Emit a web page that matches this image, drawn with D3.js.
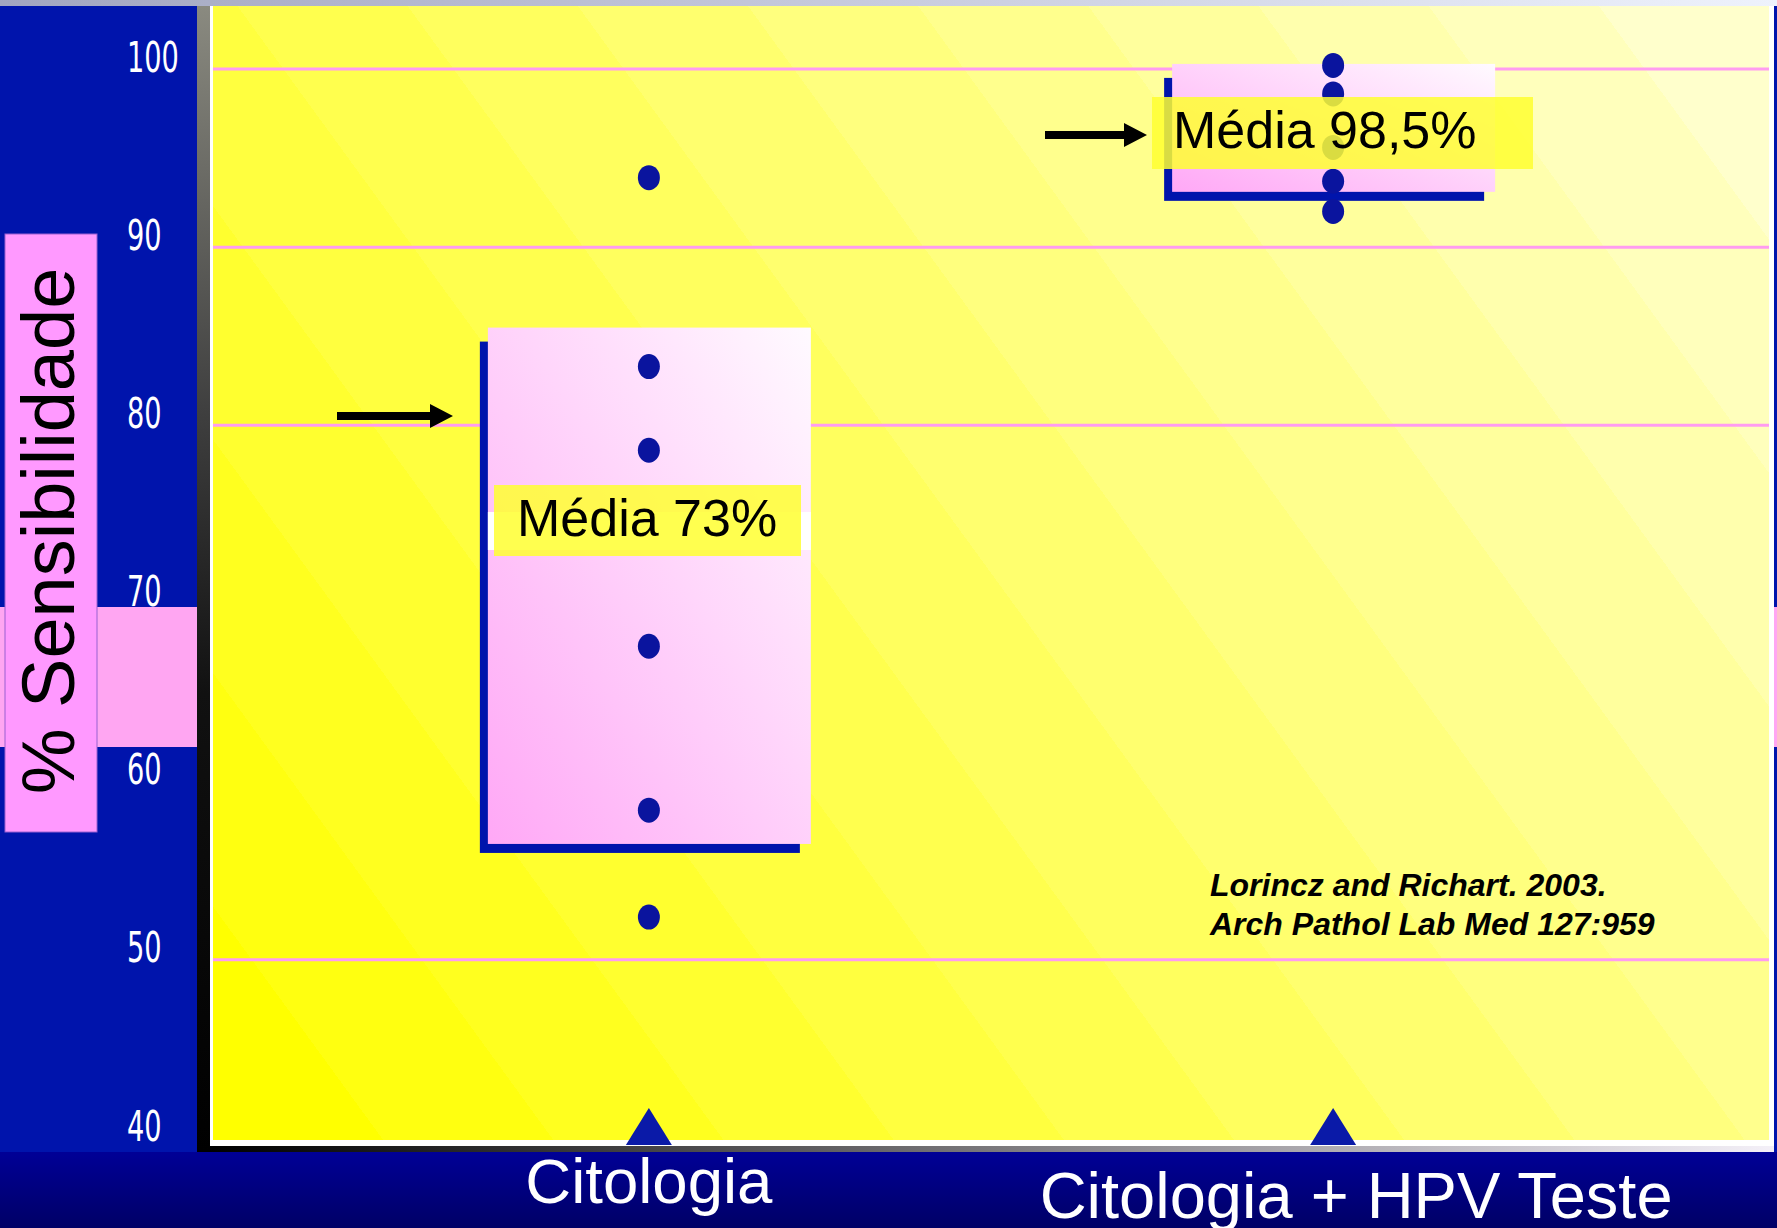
<!DOCTYPE html>
<html>
<head>
<meta charset="utf-8">
<script src="https://cdn.jsdelivr.net/npm/d3@7"></script>
<style>
  body { margin: 0; background: #000070; }
  svg { display: block; }
</style>
</head>
<body>
<svg id="chart" width="1777" height="1228"></svg>
<script>
const categories = ['Citologia', 'Citologia + HPV Teste']
const citologiaValues = [93.9, 83.3, 78.6, 67.6, 58.4, 52.4]
const hpvValues = [100.2, 98.6, 95.6, 93.7, 92.0]
const boxHigh = [84.7, 99.5]
const boxLow = [56, 92.6]
const meanLabels = ['Média 73%', 'Média 98,5%']
const yTicks = [100, 90, 80, 70, 60, 50, 40]
const gridValues = [100, 90, 80, 50]
const yTitle = '% Sensibilidade'
const citation = ['Lorincz and Richart. 2003.', 'Arch Pathol Lab Med 127:959']

function drawChart() {
  const svg = d3.select('#chart')
  const W = 1777, H = 1228
  const plot = { left: 213, right: 1769, top: 6, bottom: 1140 }
  const font = "'Liberation Sans', Arial, sans-serif"

  const x = d3.scalePoint()
    .domain(categories)
    .range([plot.left, plot.right])
    .padding(0.637)
  const y = d3.scaleLinear()
    .domain([40, 100])
    .range([1138, 69])

  const defs = svg.append('defs')

  // banded yellow background, light towards top right
  const yellow = defs.append('linearGradient')
    .attr('id', 'yellowGrad')
    .attr('gradientUnits', 'userSpaceOnUse')
    .attr('x1', plot.left).attr('y1', plot.bottom)
    .attr('x2', plot.right).attr('y2', plot.top)
  const bands = 14
  const yCol = d3.interpolateRgb('#ffff00', '#ffffcc')
  d3.range(bands).forEach(i => {
    yellow.append('stop').attr('offset', i / bands).attr('stop-color', yCol(i / (bands - 1)))
    yellow.append('stop').attr('offset', (i + 1) / bands).attr('stop-color', yCol(i / (bands - 1)))
  })

  const pink = defs.append('linearGradient')
    .attr('id', 'pinkGrad')
    .attr('x1', 0).attr('y1', 1).attr('x2', 1).attr('y2', 0)
  pink.append('stop').attr('offset', 0).attr('stop-color', '#ffa8f6')
  pink.append('stop').attr('offset', 1).attr('stop-color', '#fffaff')

  const topGrad = defs.append('linearGradient').attr('id', 'topGrad')
  topGrad.append('stop').attr('offset', 0).attr('stop-color', '#a2a6c0')
  topGrad.append('stop').attr('offset', 1).attr('stop-color', '#eef2fc')

  const sideGrad = defs.append('linearGradient')
    .attr('id', 'sideGrad')
    .attr('x1', 0).attr('y1', 0).attr('x2', 0).attr('y2', 1)
  sideGrad.append('stop').attr('offset', 0).attr('stop-color', '#8a8a80')
  sideGrad.append('stop').attr('offset', 0.35).attr('stop-color', '#404040')
  sideGrad.append('stop').attr('offset', 0.6).attr('stop-color', '#111111')
  sideGrad.append('stop').attr('offset', 1).attr('stop-color', '#000000')

  const baseGrad = defs.append('linearGradient').attr('id', 'baseGrad')
  baseGrad.append('stop').attr('offset', 0).attr('stop-color', '#000000')
  baseGrad.append('stop').attr('offset', 1).attr('stop-color', '#f4f0f8')

  const navyGrad = defs.append('linearGradient')
    .attr('id', 'navyGrad')
    .attr('x1', 0).attr('y1', 0).attr('x2', 0).attr('y2', 1)
  navyGrad.append('stop').attr('offset', 0).attr('stop-color', '#000096')
  navyGrad.append('stop').attr('offset', 1).attr('stop-color', '#000066')

  // slide frame
  svg.append('rect').attr('x', 0).attr('y', 0).attr('width', W).attr('height', 1152).attr('fill', '#0014ac')
  svg.append('rect').attr('x', 0).attr('y', 607).attr('width', W).attr('height', 140).attr('fill', '#ffa6f2')
  svg.append('rect').attr('x', 0).attr('y', 0).attr('width', W).attr('height', 6).attr('fill', 'url(#topGrad)')
  svg.append('rect').attr('x', 197).attr('y', 6).attr('width', 13).attr('height', 1146).attr('fill', 'url(#sideGrad)')
  svg.append('rect').attr('x', 210).attr('y', 1146).attr('width', 1564).attr('height', 6).attr('fill', 'url(#baseGrad)')
  svg.append('rect').attr('x', 210).attr('y', 6).attr('width', 1564).attr('height', 1140).attr('fill', '#ffffff')
  svg.append('rect')
    .attr('x', plot.left).attr('y', plot.top)
    .attr('width', plot.right - plot.left).attr('height', plot.bottom - plot.top)
    .attr('fill', 'url(#yellowGrad)')
  svg.append('rect').attr('x', 0).attr('y', 1152).attr('width', W).attr('height', H - 1152).attr('fill', 'url(#navyGrad)')

  // grid lines
  svg.append('g').selectAll('line')
    .data(gridValues)
    .join('line')
    .attr('x1', plot.left).attr('x2', plot.right)
    .attr('y1', d => y(d)).attr('y2', d => y(d))
    .attr('stroke', '#ff9cf0')
    .attr('stroke-width', 3)

  // y ticks, left aligned on the blue panel, narrow digits
  svg.append('g')
    .attr('transform', 'translate(127,0)')
    .call(d3.axisRight(y).tickValues(yTicks).tickSize(0).tickPadding(0).tickFormat(d3.format('d')))
    .call(g => g.select('.domain').remove())
    .call(g => g.selectAll('text')
      .attr('dy', 2)
      .attr('fill', '#ffffff')
      .attr('textLength', d => String(d).length * 17.3)
      .attr('lengthAdjust', 'spacingAndGlyphs')
      .style('font-family', "'Liberation Sans Narrow', 'DejaVu Sans Condensed', sans-serif")
      .style('font-size', '43px'))

  // y title
  svg.append('rect')
    .attr('x', 5).attr('y', 234).attr('width', 92).attr('height', 598)
    .attr('fill', '#ff99ff')
    .attr('stroke', '#9a60d0')
    .attr('stroke-width', 1)
  svg.append('text')
    .attr('transform', 'translate(74,531) rotate(-90)')
    .attr('text-anchor', 'middle')
    .style('font-family', font)
    .style('font-size', '74px')
    .attr('fill', '#000')
    .text(yTitle)

  // range boxes: blue shadow then pink face
  const boxes = categories.map((c, i) => ({ c, hi: boxHigh[i], lo: boxLow[i] }))
  const boxG = svg.append('g')
  boxG.selectAll('rect.shadow')
    .data(boxes)
    .join('rect')
    .attr('class', 'shadow')
    .attr('x', d => x(d.c) - 169)
    .attr('y', d => y(d.hi))
    .attr('width', 320)
    .attr('height', d => y(d.lo) - y(d.hi))
    .attr('fill', '#0014ac')
  boxG.selectAll('rect.face')
    .data(boxes)
    .join('rect')
    .attr('class', 'face')
    .attr('x', d => x(d.c) - 161)
    .attr('y', d => y(d.hi) - 14)
    .attr('width', 323)
    .attr('height', d => y(d.lo) - y(d.hi) + 5)
    .attr('fill', 'url(#pinkGrad)')

  // white strip behind first label
  svg.append('rect')
    .attr('x', x(categories[0]) - 161).attr('y', 512)
    .attr('width', 323).attr('height', 38)
    .attr('fill', '#ffffff')

  // points
  const points = [
    ...citologiaValues.map(v => ({ c: categories[0], v })),
    ...hpvValues.map(v => ({ c: categories[1], v }))
  ]
  svg.append('g').selectAll('ellipse')
    .data(points)
    .join('ellipse')
    .attr('cx', d => x(d.c))
    .attr('cy', d => y(d.v))
    .attr('rx', 11)
    .attr('ry', 12.5)
    .attr('fill', '#0a149e')

  // triangles on the baseline
  svg.append('g').selectAll('path')
    .data(categories)
    .join('path')
    .attr('d', d => {
      const cx = x(d), b = y(40)
      return `M${cx},${b - 30}L${cx + 23},${b + 7}L${cx - 23},${b + 7}Z`
    })
    .attr('fill', '#0a1aa8')

  // mean labels
  const labelBoxes = [
    { x: 494, y: 485, w: 307, h: 71, tx: 517, ty: 536 },
    { x: 1152, y: 97, w: 381, h: 72, tx: 1173, ty: 148 }
  ]
  const lab = svg.append('g').selectAll('g')
    .data(meanLabels)
    .join('g')
  lab.append('rect')
    .attr('x', (d, i) => labelBoxes[i].x)
    .attr('y', (d, i) => labelBoxes[i].y)
    .attr('width', (d, i) => labelBoxes[i].w)
    .attr('height', (d, i) => labelBoxes[i].h)
    .attr('fill', '#ffff30')
    .attr('opacity', 0.85)
  lab.append('text')
    .attr('x', (d, i) => labelBoxes[i].tx)
    .attr('y', (d, i) => labelBoxes[i].ty)
    .style('font-family', font)
    .style('font-size', '52px')
    .attr('fill', '#000')
    .text(d => d)

  // arrows
  const arrows = [{ x1: 337, x2: 453, y: 416 }, { x1: 1045, x2: 1147, y: 135 }]
  svg.append('g').selectAll('path')
    .data(arrows)
    .join('path')
    .attr('d', a => `M${a.x1},${a.y - 4}H${a.x2 - 23}V${a.y - 12}L${a.x2},${a.y}L${a.x2 - 23},${a.y + 12}V${a.y + 4}H${a.x1}Z`)
    .attr('fill', '#000')

  // reference
  svg.append('g').selectAll('text')
    .data(citation)
    .join('text')
    .attr('x', 1210)
    .attr('y', (d, i) => 896 + i * 39)
    .style('font-family', font)
    .style('font-size', '32px')
    .style('font-weight', 'bold')
    .style('font-style', 'italic')
    .attr('fill', '#000')
    .text(d => d)

  // category labels
  const catDx = [0, 23]
  const catBase = [1203, 1218]
  const catSize = [63.5, 65]
  svg.append('g').selectAll('text')
    .data(categories)
    .join('text')
    .attr('x', (d, i) => x(d) + catDx[i])
    .attr('y', (d, i) => catBase[i])
    .attr('text-anchor', 'middle')
    .style('font-family', font)
    .style('font-size', (d, i) => catSize[i] + 'px')
    .attr('fill', '#ffffff')
    .text(d => d)
}

document.addEventListener('DOMContentLoaded', drawChart, false)
</script>
</body>
</html>
